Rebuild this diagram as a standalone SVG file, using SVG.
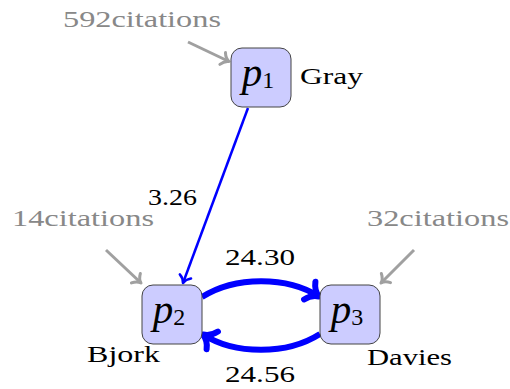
<svg xmlns="http://www.w3.org/2000/svg" width="510" height="389" viewBox="0 0 510 389">
<defs>
<marker id="ag" markerUnits="userSpaceOnUse" viewBox="-20 -20 40 40" markerWidth="40" markerHeight="40" refX="0" refY="0" orient="auto" overflow="visible">
<path d="M-7,-6.5 C-5,-2.5 -2,-0.6 0,0 C-2,0.6 -5,2.5 -7,6.5" fill="none" stroke="#a0a0a0" stroke-width="3" stroke-linecap="round" stroke-linejoin="round"/>
</marker>
<marker id="ab" markerUnits="userSpaceOnUse" viewBox="-20 -20 40 40" markerWidth="40" markerHeight="40" refX="0" refY="0" orient="auto" overflow="visible">
<path d="M-7,-6 C-5,-2.4 -2,-0.6 0,0 C-2,0.6 -5,2.4 -7,6" fill="none" stroke="#0000ff" stroke-width="2.5" stroke-linecap="round" stroke-linejoin="round"/>
</marker>
<marker id="at" markerUnits="userSpaceOnUse" viewBox="-30 -30 60 60" markerWidth="60" markerHeight="60" refX="0" refY="0" orient="auto" overflow="visible">
<path d="M-11,-10.5 C-8,-4 -3,-1 0,0 C-3,1 -8,4 -11,10.5" fill="none" stroke="#0000ff" stroke-width="6" stroke-linecap="round" stroke-linejoin="round"/>
</marker>
</defs>
<g id="connectors" fill="none">
<g stroke="#a0a0a0" stroke-width="3" marker-end="url(#ag)">
<path d="M188,42 L229,61.5"/>
<path d="M106,250 L141,283"/>
<path d="M414,250 L381,283"/>
</g>
<path d="M248,108 L183,283" stroke="#0000ff" stroke-width="2.5" marker-end="url(#ab)"/>
<g stroke="#0000ff" stroke-width="6" marker-end="url(#at)">
<path d="M202,297 C235,276 287,276 319,296.5"/>
<path d="M320,334 C287,355 235,355 203,334.5"/>
</g>
<g font-family="Liberation Serif" font-size="23" fill="#000" stroke="none">
<text x="148" y="205" textLength="49" lengthAdjust="spacingAndGlyphs">3.26</text>
<text x="225" y="265" textLength="70" lengthAdjust="spacingAndGlyphs">24.30</text>
<text x="225" y="382" textLength="70" lengthAdjust="spacingAndGlyphs">24.56</text>
</g>
</g>
<g font-family="Liberation Serif" font-size="23" fill="#888">
<g id="cit1"><text x="63" y="27" textLength="158" lengthAdjust="spacingAndGlyphs">592citations</text></g>
<g id="cit2"><text x="12" y="226" textLength="142" lengthAdjust="spacingAndGlyphs">14citations</text></g>
<g id="cit3"><text x="367" y="226" textLength="142" lengthAdjust="spacingAndGlyphs">32citations</text></g>
</g>
<g font-family="Liberation Serif" font-size="23" fill="#000">
<g id="p1">
<rect x="231" y="48" width="60" height="59" rx="11" fill="#ccccff" stroke="#444" stroke-width="1"/>
<text x="258" y="86" text-anchor="middle" font-style="italic" font-size="41">p<tspan font-style="normal" font-size="24" dy="2">1</tspan></text>
<text x="300" y="84" textLength="63" lengthAdjust="spacingAndGlyphs">Gray</text>
</g>
<g id="p2">
<rect x="142" y="285" width="60" height="59" rx="11" fill="#ccccff" stroke="#444" stroke-width="1"/>
<text x="169" y="323" text-anchor="middle" font-style="italic" font-size="41">p<tspan font-style="normal" font-size="24" dy="2">2</tspan></text>
<text x="87" y="362" textLength="73" lengthAdjust="spacingAndGlyphs">Bjork</text>
</g>
<g id="p3">
<rect x="320" y="285" width="60" height="59" rx="11" fill="#ccccff" stroke="#444" stroke-width="1"/>
<text x="347" y="323" text-anchor="middle" font-style="italic" font-size="41">p<tspan font-style="normal" font-size="24" dy="2">3</tspan></text>
<text x="367" y="365" textLength="85" lengthAdjust="spacingAndGlyphs">Davies</text>
</g>
</g>
</svg>
